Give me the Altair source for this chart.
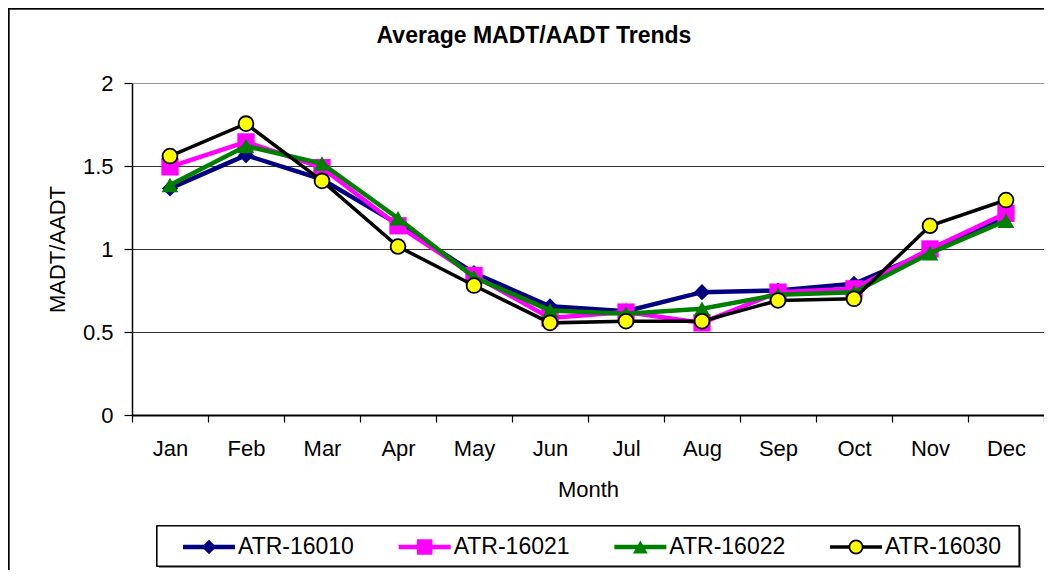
import altair as alt
import pandas as pd

months = ["Jan", "Feb", "Mar", "Apr", "May", "Jun", "Jul", "Aug", "Sep", "Oct", "Nov", "Dec"]
series_names = ["ATR-16010", "ATR-16021", "ATR-16022", "ATR-16030"]
atr_16010 = [1.365, 1.565, 1.42, 1.15, 0.855, 0.655, 0.625, 0.74, 0.75, 0.79, 0.985, 1.19]
atr_16021 = [1.495, 1.645, 1.49, 1.14, 0.84, 0.585, 0.62, 0.555, 0.74, 0.76, 1.0, 1.215]
atr_16022 = [1.385, 1.62, 1.515, 1.185, 0.83, 0.63, 0.61, 0.64, 0.725, 0.74, 0.975, 1.17]
atr_16030 = [1.56, 1.755, 1.41, 1.015, 0.78, 0.555, 0.565, 0.565, 0.69, 0.70, 1.14, 1.295]
y_ticks = [0, 0.5, 1, 1.5, 2]

all_values = [atr_16010, atr_16021, atr_16022, atr_16030]
rows = []
for s, vals in zip(series_names, all_values):
    for i, (m, v) in enumerate(zip(months, vals)):
        rows.append({"series": s, "month": m, "mi": i, "value": v})
df = pd.DataFrame(rows)
leg_df = pd.DataFrame({"series": series_names, "idx": list(range(len(series_names)))})

FONT = "Liberation Sans"
styles = {
    "ATR-16010": dict(line="#000080", width=4.5, shape="diamond", fill="#000080", stroke="#000080", sw=0, size=260),
    "ATR-16021": dict(line="#FF00FF", width=4.5, shape="square", fill="#FF00FF", stroke="#FF00FF", sw=0, size=300),
    "ATR-16022": dict(line="#008000", width=4.5, shape="triangle-up", fill="#008000", stroke="#008000", sw=0, size=280),
    "ATR-16030": dict(line="#000000", width=3.5, shape="circle", fill="#FFFF00", stroke="#000000", sw=1.8, size=220),
}

W, H = 912, 332
month_arr = "[" + ",".join("'%s'" % m for m in months) + "]"

x_enc = alt.X(
    "mi:Q",
    scale=alt.Scale(domain=[-0.5, len(months) - 0.5], nice=False, zero=False),
    axis=alt.Axis(
        values=[i - 0.5 for i in range(len(months) + 1)],
        labelExpr=month_arr + "[datum.value + 0.5] || ''",
        labelOffset=38,
        labelOverlap=False,
        labelFlush=False,
        labelBound=False,
        tickSize=7,
        labelPadding=16,
        grid=False,
        domainColor="#000000",
        domainWidth=2,
        tickColor="#000000",
        tickWidth=1.2,
        labelFont=FONT,
        labelFontSize=22,
        labelColor="#000000",
        title="Month",
        titleFont=FONT,
        titleFontSize=22,
        titleFontWeight="normal",
        titleColor="#000000",
        titleX=W / 2,
        titleY=74,
        titleBaseline="middle",
    ),
)
y_enc = alt.Y(
    "value:Q",
    scale=alt.Scale(domain=[0, 2], nice=False),
    axis=alt.Axis(
        values=y_ticks,
        format="~g",
        tickSize=8,
        labelPadding=11,
        grid=True,
        gridColor=alt.condition("datum.value == 2", alt.value("#999999"), alt.value("#333333")),
        gridWidth=1,
        domainColor="#000000",
        domainWidth=1.5,
        tickColor="#000000",
        tickWidth=1.2,
        labelFont=FONT,
        labelFontSize=22,
        labelColor="#000000",
        title="MADT/AADT",
        titleFont=FONT,
        titleFontSize=22,
        titleFontWeight="normal",
        titleColor="#000000",
        titleX=-75,
        titleY=H / 2,
        titleAngle=-90,
        titleAlign="center",
        titleBaseline="middle",
    ),
)

main_layers = []
for s in series_names:
    st = styles[s]
    base = alt.Chart(df).transform_filter(alt.datum.series == s)
    main_layers.append(base.mark_line(color=st["line"], strokeWidth=st["width"]).encode(x=x_enc, y=y_enc))
    main_layers.append(
        base.mark_point(shape=st["shape"], filled=True, fill=st["fill"], stroke=st["stroke"],
                        strokeWidth=st["sw"], size=st["size"], opacity=1).encode(x=x_enc, y=y_enc)
    )
main = alt.layer(*main_layers)

# legend, positioned by series index through its own linear scale
lx = alt.X("idx:Q", scale=alt.Scale(domain=[0, 4], range=[51, 51 + 4 * 215.67]), axis=None)
LEG_Y = 464
leg_shadow = alt.Chart(leg_df).mark_rect(fill="#888888").encode(
    x=alt.value(27), x2=alt.value(889), y=alt.value(445), y2=alt.value(485))
leg_box = alt.Chart(leg_df).mark_rect(fill="white", stroke="black", strokeWidth=1.2).encode(
    x=alt.value(25), x2=alt.value(887), y=alt.value(443), y2=alt.value(483))
leg_layers = [leg_shadow, leg_box]
for s in series_names:
    st = styles[s]
    lb = alt.Chart(leg_df).transform_filter(alt.datum.series == s)
    leg_layers.append(lb.mark_rule(color=st["line"], strokeWidth=st["width"], x2Offset=52).encode(
        x=lx, x2=alt.X2("idx:Q"), y=alt.value(LEG_Y)))
    leg_layers.append(lb.mark_point(shape=st["shape"], filled=True, fill=st["fill"], stroke=st["stroke"],
                                    strokeWidth=st["sw"], size=st["size"] * 0.8, opacity=1, xOffset=26).encode(
        x=lx, y=alt.value(LEG_Y)))
    leg_layers.append(lb.mark_text(align="left", baseline="middle", dx=55, font=FONT, fontSize=23,
                                   color="black").encode(x=lx, y=alt.value(LEG_Y), text="series:N"))
legend = alt.layer(*leg_layers)

frame = alt.Chart(leg_df).mark_rect(fill=None, stroke="black", strokeWidth=1.5).encode(
    x=alt.value(-123.5), x2=alt.value(W + 300), y=alt.value(-74.5), y2=alt.value(H + 400))

chart = alt.layer(frame, main, legend).resolve_scale(x="independent").properties(
    width=W,
    height=H,
    title=alt.TitleParams("Average MADT/AADT Trends", font=FONT, fontSize=23, fontWeight="bold",
                          color="black", anchor="middle", frame="group", dx=-54, dy=40, offset=0),
    autosize=alt.AutoSizeParams(type="none"),
    padding={"left": 124, "top": 75, "right": 0, "bottom": 155},
).configure_view(stroke="#999999", strokeWidth=2).configure(background="white")

chart.save("out.html", embed_options={"renderer": "svg", "actions": False})
